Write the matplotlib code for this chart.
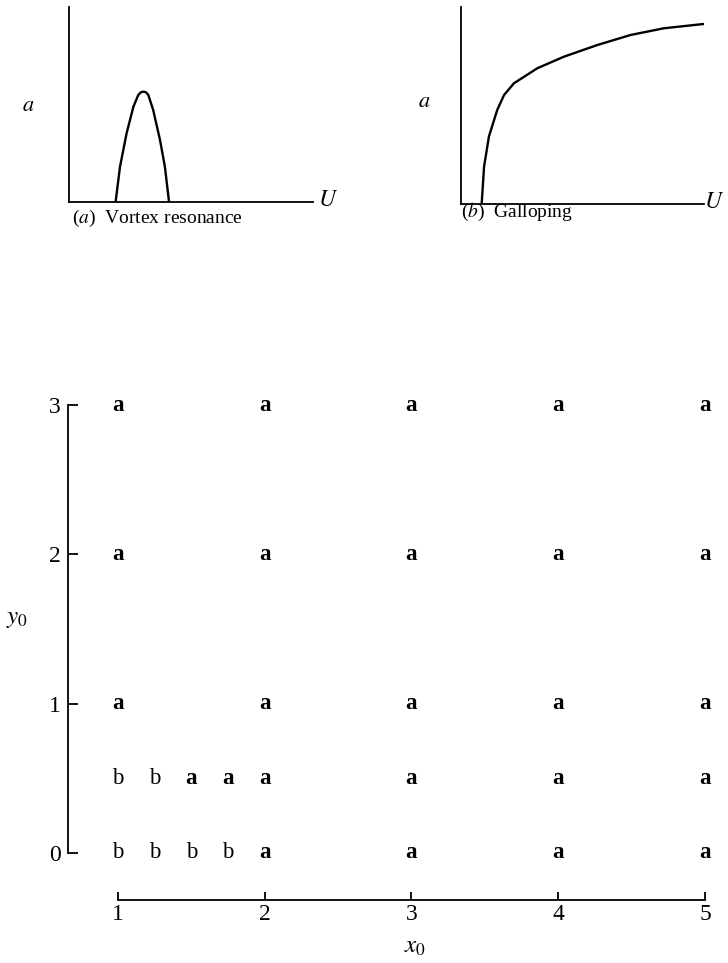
import matplotlib.pyplot as plt

plt.rcParams['font.family'] = ['Liberation Serif', 'DejaVu Serif']
plt.rcParams['mathtext.fontset'] = 'stix'

# (a) vortex resonance curve, amplitude a vs wind speed U (arbitrary units)
vr_u = [0.191, 0.209, 0.236, 0.264, 0.284, 0.295, 0.305, 0.315, 0.325, 0.345,
        0.373, 0.393, 0.41]
vr_a = [0, 0.181, 0.352, 0.489, 0.549, 0.563, 0.566, 0.563, 0.549, 0.472,
        0.318, 0.181, 0]

# (b) galloping curve
gal_u = [0.085, 0.095, 0.115, 0.149, 0.177, 0.218, 0.314, 0.424, 0.561, 0.698,
         0.835, 1.0]
gal_a = [0, 0.19, 0.343, 0.477, 0.553, 0.613, 0.689, 0.748, 0.807, 0.858,
         0.892, 0.914]

# response map: letter at (x0, y0)
x_cols = [1, 1.25, 1.5, 1.75, 2, 3, 4, 5]
y_rows = [3, 2, 1, 0.5, 0]
row_labels = {
    3:   ['a', None, None, None, 'a', 'a', 'a', 'a'],
    2:   ['a', None, None, None, 'a', 'a', 'a', 'a'],
    1:   ['a', None, None, None, 'a', 'a', 'a', 'a'],
    0.5: ['b', 'b', 'a', 'a', 'a', 'a', 'a', 'a'],
    0:   ['b', 'b', 'b', 'b', 'a', 'a', 'a', 'a'],
}
x_ticks = [1, 2, 3, 4, 5]
y_ticks = [0, 1, 2, 3]

W, H = 728, 963
fig = plt.figure(figsize=(W / 100, H / 100), dpi=100)


def small_panel(rect, u, a, caption, cap_x, cap_y, alab_x, alab_y, ulab_x):
    ax = fig.add_axes(rect)
    ax.plot(u, a, color='black', lw=1.7, solid_joinstyle='round')
    ax.set_xlim(0, 1)
    ax.set_ylim(0, 1)
    for s in ['top', 'right']:
        ax.spines[s].set_visible(False)
    for s in ['left', 'bottom']:
        ax.spines[s].set_linewidth(1.3)
    ax.set_xticks([])
    ax.set_yticks([])
    ax.text(alab_x, alab_y, '$a$', transform=ax.transAxes,
            fontsize=16, ha='center', va='center')
    ax.text(ulab_x, 0.01, '$U$', transform=ax.transAxes, fontsize=17,
            ha='center', va='center')
    ax.text(cap_x, cap_y, caption, transform=ax.transAxes, fontsize=14,
            ha='left', va='center')
    ax.patch.set_alpha(0)
    return ax


small_panel([69 / W, 1 - 202 / H, 244 / W, 195 / H], vr_u, vr_a,
            '($a$)  Vortex resonance', 0.012, -0.082, -0.168, 0.492, 1.061)
small_panel([461 / W, 1 - 204 / H, 243 / W, 197 / H], gal_u, gal_a,
            '($b$)  Galloping', 0.0, -0.04, -0.152, 0.513, 1.04)

# bottom map
ax = fig.add_axes([68 / W, 1 - 900 / H, 651.7 / W, 509.8 / H])
ax.set_xlim(0.66, 5.1)
ax.set_ylim(-0.315, 3.1)
for s in ['top', 'right']:
    ax.spines[s].set_visible(False)
ax.spines['left'].set_bounds(0, 3)
ax.spines['bottom'].set_bounds(1, 5)
for s in ['left', 'bottom']:
    ax.spines[s].set_linewidth(1.3)
ax.set_xticks(x_ticks)
ax.set_yticks(y_ticks)
ax.tick_params(axis='both', direction='in', width=1.3, labelsize=17)
ax.tick_params(axis='y', length=7, pad=5)
ax.tick_params(axis='x', length=6, pad=3)

for yv in y_rows:
    for xv, lab in zip(x_cols, row_labels[yv]):
        if lab is None:
            continue
        ax.text(xv, yv, lab, ha='center', va='center', fontsize=16.5,
                fontweight='bold' if lab == 'a' else 'normal')

ax.set_xlabel('$x_0$', fontsize=18)
ax.set_ylabel('$y_0$', fontsize=18, rotation=0)
ax.xaxis.set_label_coords(0.532, -0.07)
ax.yaxis.set_label_coords(-0.078, 0.53)

fig.savefig('out.png', dpi=100)
